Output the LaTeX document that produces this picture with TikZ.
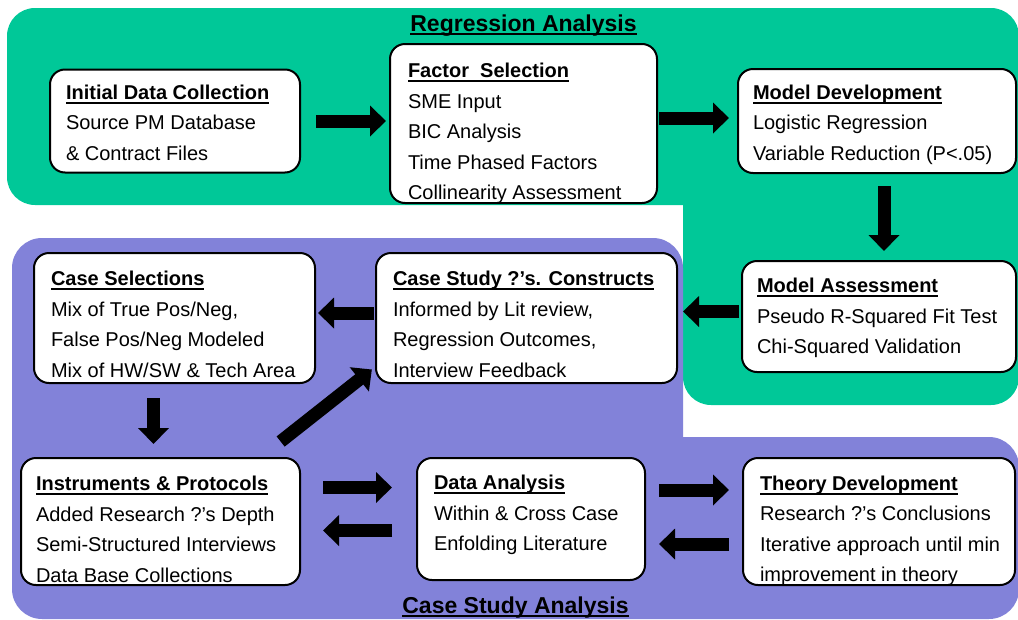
\documentclass[tikz,border=0pt]{standalone}
\usepackage{fontspec}
\setmainfont{Liberation Sans}
\usetikzlibrary{arrows.meta,positioning,calc}

\definecolor{regrgreen}{RGB}{0,200,152}
\definecolor{casepurple}{RGB}{130,130,217}

\newsavebox\hdbox
\newcommand\hd[1]{\sbox\hdbox{\bfseries #1}\strut\rlap{\rule[-4.2pt]{\wd\hdbox}{1.8pt}}\usebox\hdbox}

\tikzset{
  card/.style={draw, line width=2pt, fill=white, rounded corners=15pt, inner sep=0pt},
  cardtext/.style={anchor=north west, inner sep=0pt, outer sep=0pt, align=left, font=\fontsize{20}{30.5}\selectfont},
  bigarrow/.style={line width=13pt, -{Triangle[width=30pt,length=16pt]}},
  areatitle/.style={anchor=base, inner sep=0pt, font=\fontsize{23}{28}\selectfont}
}

\begin{document}
\begin{tikzpicture}[x=1pt,y=-1pt]
    \useasboundingbox (0,0) rectangle (1018,619);

    % Background areas
    \fill[regrgreen, rounded corners=28pt] (7,8) rectangle (1019,205);
    \fill[regrgreen, rounded corners=28pt] (683,100) rectangle (1019,405);
    \fill[casepurple, rounded corners=30pt] (12,238) rectangle (683,520);
    \fill[casepurple, rounded corners=30pt] (12,437) rectangle (1019,619);

    % Boxes
    \node[card, minimum width=250pt, minimum height=103pt] (init) at (175,121) {};
    \node[card, minimum width=267pt, minimum height=159pt] (factor) at (523.5,123.5) {};
    \node[card, minimum width=278pt, minimum height=104pt] (dev) at (877,121) {};
    \node[card, minimum width=274pt, minimum height=111pt] (assess) at (879,316.5) {};
    \node[card, minimum width=301pt, minimum height=130pt] (study) at (526.5,318) {};
    \node[card, minimum width=281pt, minimum height=130pt] (select) at (174.5,318) {};
    \node[card, minimum width=279pt, minimum height=127pt] (instr) at (160.5,521.5) {};
    \node[card, minimum width=228pt, minimum height=122pt] (data) at (531,519) {};
    \node[card, minimum width=272pt, minimum height=127pt] (theory) at (879,521.5) {};

    % Box text
    \node[cardtext] (init-txt) at ([shift={(17,9.5)}]init.north west)
        {\hd{Initial Data Collection}\\Source PM Database\\\& Contract Files};
    \node[cardtext] (factor-txt) at ([shift={(19,13.5)}]factor.north west)
        {\hd{Factor\ \ Selection}\\SME Input\\BIC Analysis\\Time Phased Factors\\Collinearity Assessment};
    \node[cardtext] (dev-txt) at ([shift={(16,10)}]dev.north west)
        {\hd{Model Development}\\Logistic Regression\\Variable Reduction (P<.05)};
    \node[cardtext] (assess-txt) at ([shift={(16,11.5)}]assess.north west)
        {\hd{Model Assessment}\\Pseudo R-Squared Fit Test\\Chi-Squared Validation};
    \node[cardtext] (study-txt) at ([shift={(18,12.5)}]study.north west)
        {\hd{Case Study ?’s. Constructs}\\Informed by Lit review,\\Regression Outcomes,\\Interview Feedback};
    \node[cardtext] (select-txt) at ([shift={(18,12.5)}]select.north west)
        {\hd{Case Selections}\\Mix of True Pos/Neg,\\False Pos/Neg Modeled\\Mix of HW/SW \& Tech Area};
    \node[cardtext] (instr-txt) at ([shift={(16,12.5)}]instr.north west)
        {\hd{Instruments \& Protocols}\\Added Research ?’s Depth\\Semi-Structured Interviews\\Data Base Collections};
    \node[cardtext] (data-txt) at ([shift={(18,11.5)}]data.north west)
        {\hd{Data Analysis}\\Within \& Cross Case\\Enfolding Literature};
    \node[cardtext] (theory-txt) at ([shift={(18,12)}]theory.north west)
        {\hd{Theory Development}\\Research ?’s Conclusions\\Iterative approach until min\\improvement in theory};

    % Arrows
    \draw[bigarrow, shorten <=15pt, shorten >=3pt] (init.east) -- (init.east -| factor.west);
    \draw[bigarrow, shorten <=1pt, shorten >=8pt] ([yshift=3pt]dev.west -| factor.east) -- ([yshift=3pt]dev.west);
    \draw[bigarrow, shorten <=12pt, shorten >=9pt] ([xshift=7pt]dev.south) -- ([xshift=7pt]dev.south |- assess.north);
    \draw[bigarrow, shorten <=2pt, shorten >=5pt] ([yshift=5pt]assess.west) -- ([yshift=5pt]assess.west -| study.east);
    \draw[bigarrow, shorten <=1pt, shorten >=2pt] ([yshift=5pt]study.west) -- ([yshift=5pt]study.west -| select.east);
    \draw[bigarrow, shorten <=14pt, shorten >=13pt] ([xshift=-21pt]select.south) -- ([xshift=-21pt]select.south |- instr.north);
    \draw[bigarrow, shorten <=25pt, shorten >=4pt] ([xshift=-40pt]instr.north east) -- ([yshift=17pt]study.south west);
    \draw[bigarrow, shorten <=22pt, shorten >=24pt] ([yshift=34pt]instr.east) -- ([yshift=34pt]instr.east -| data.west);
    \draw[bigarrow, shorten <=24pt, shorten >=22pt] ([yshift=-9pt]instr.east -| data.west) -- ([yshift=-9pt]instr.east);
    \draw[bigarrow, shorten <=13pt, shorten >=13pt] ([yshift=29pt]data.east) -- ([yshift=29pt]data.east -| theory.west);
    \draw[bigarrow, shorten <=13pt, shorten >=13pt] ([yshift=-25pt]data.east -| theory.west) -- ([yshift=-25pt]data.east);

    % Area titles
    \node[areatitle] (regr-title) at (523.5,31) {\hd{Regression Analysis}};
    \node[areatitle] (case-title) at (515.5,613) {\hd{Case Study Analysis}};
\end{tikzpicture}
\end{document}
